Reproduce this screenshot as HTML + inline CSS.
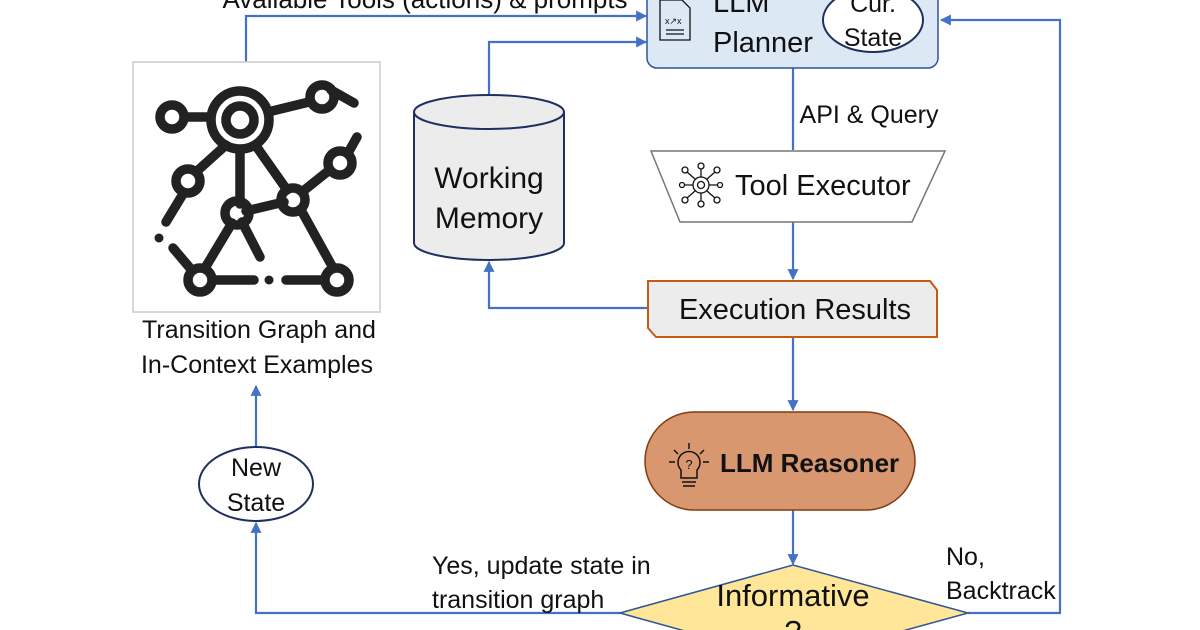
<!DOCTYPE html>
<html><head><meta charset="utf-8"><style>
html,body{margin:0;padding:0;background:#fff;}
svg{display:block;font-family:"Liberation Sans","DejaVu Sans",sans-serif;}
</style></head><body>
<svg width="1200" height="630" viewBox="0 0 1200 630" xmlns="http://www.w3.org/2000/svg">
<defs>
<marker id="a" viewBox="0 0 10 10" refX="9" refY="5" markerWidth="5" markerHeight="5" orient="auto"><path d="M0,0 L10,5 L0,10 z" fill="#4472c4"/></marker>
</defs>
<g fill="none" stroke="#4472c4" stroke-width="2.2">
<path d="M246,62 V16 H646" marker-end="url(#a)"/>
<path d="M489,95 V42 H646" marker-end="url(#a)"/>
<path d="M793,68 V150"/>
<path d="M793,222 V279" marker-end="url(#a)"/>
<path d="M648,308 H489 V262" marker-end="url(#a)"/>
<path d="M793,338 V410" marker-end="url(#a)"/>
<path d="M793,510 V564" marker-end="url(#a)"/>
<path d="M620,613 H256 V523" marker-end="url(#a)"/>
<path d="M256,446 V386" marker-end="url(#a)"/>
<path d="M968,613 H1060 V20 H941" marker-end="url(#a)"/>
</g>
<text x="425" y="8" font-size="26" text-anchor="middle" fill="#111">Available Tools (actions) &amp; prompts</text>
<!-- Planner -->
<rect x="647" y="-12" width="291" height="80" rx="10" fill="#dde8f5" stroke="#2f5597" stroke-width="1.5"/>
<g fill="none" stroke="#111" stroke-width="1.3">
<path d="M660,0 H682 L690,8 V40 H660 Z"/>
<path d="M666,30 H684 M666,34 H684"/>
</g>
<text x="665" y="24" font-size="9" fill="#111">x↗x</text>
<text x="713" y="12" font-size="29" fill="#111">LLM</text>
<text x="713" y="52" font-size="29" fill="#111">Planner</text>
<ellipse cx="873" cy="20" rx="50" ry="32" fill="#fff" stroke="#1f2f5f" stroke-width="2"/>
<text x="873" y="12" font-size="25" text-anchor="middle" fill="#111">Cur.</text>
<text x="873" y="46" font-size="25" text-anchor="middle" fill="#111">State</text>
<text x="869" y="123" font-size="25" text-anchor="middle" fill="#111">API &amp; Query</text>
<!-- Tool Executor -->
<path d="M651,151 H945 L912,222 H680 Z" fill="#fff" stroke="#777" stroke-width="1.5"/>
<g fill="none" stroke="#111" stroke-width="1.3">
<circle cx="701" cy="185" r="8"/><circle cx="701" cy="185" r="3.5"/>
<path d="M701,177 V169 M701,193 V201 M693,185 H685 M709,185 H717 M695,179 L687,172 M707,179 L715,172 M695,191 L687,198 M707,191 L715,198"/>
<circle cx="685" cy="170" r="3"/><circle cx="701" cy="166" r="3"/><circle cx="717" cy="170" r="3"/>
<circle cx="685" cy="200" r="3"/><circle cx="701" cy="204" r="3"/><circle cx="717" cy="200" r="3"/>
<circle cx="682" cy="185" r="2.5"/><circle cx="720" cy="185" r="2.5"/>
</g>
<text x="735" y="195" font-size="29" fill="#111">Tool Executor</text>
<!-- Working memory -->
<path d="M414,112 V243 A75,17 0 0 0 564,243 V112" fill="#ececec" stroke="#1f2f5f" stroke-width="2"/>
<ellipse cx="489" cy="112" rx="75" ry="17" fill="#ececec" stroke="#1f2f5f" stroke-width="2"/>
<text x="489" y="188" font-size="30" text-anchor="middle" fill="#111">Working</text>
<text x="489" y="228" font-size="30" text-anchor="middle" fill="#111">Memory</text>
<!-- Execution results -->
<path d="M648,281 H930 L937,290 V337 H656 L648,328 Z" fill="#ececec" stroke="#c55a11" stroke-width="2"/>
<text x="795" y="319" font-size="29" text-anchor="middle" fill="#111">Execution Results</text>
<!-- Reasoner -->
<rect x="645" y="412" width="270" height="98" rx="49" fill="#d9976f" stroke="#843c0c" stroke-width="1.5"/>
<g fill="none" stroke="#111" stroke-width="1.5">
<path d="M681,478 V470 A11,11 0 1 1 697,470 V478 Z"/>
<path d="M682,482 H696 M683,486 H695"/>
<path d="M689,443 V449 M674,450 L678,454 M704,450 L700,454 M669,462 H675 M703,462 H709"/>
</g>
<text x="689" y="469" font-size="13" text-anchor="middle" fill="#111">?</text>
<text x="720" y="472" font-size="26" font-weight="bold" fill="#111">LLM Reasoner</text>
<!-- Diamond -->
<path d="M620,613 L793,565 L968,613 L793,661 Z" fill="#ffe699" stroke="#2f5597" stroke-width="1.5"/>
<text x="793" y="606" font-size="31" text-anchor="middle" fill="#111">Informative</text>
<text x="793" y="642" font-size="31" text-anchor="middle" fill="#111">?</text>
<text x="432" y="574" font-size="25" fill="#111">Yes, update state in</text>
<text x="432" y="608" font-size="25" fill="#111">transition graph</text>
<text x="946" y="565" font-size="25" fill="#111">No,</text>
<text x="946" y="599" font-size="25" fill="#111">Backtrack</text>
<!-- New state -->
<ellipse cx="256" cy="484" rx="57" ry="37" fill="#fff" stroke="#1f2f5f" stroke-width="2"/>
<text x="256" y="476" font-size="25" text-anchor="middle" fill="#111">New</text>
<text x="256" y="511" font-size="25" text-anchor="middle" fill="#111">State</text>
<!-- Graph image -->
<rect x="133" y="62" width="247" height="250" fill="#fff" stroke="#ccc" stroke-width="1.5"/>
<g fill="none" stroke="#222" stroke-width="9.5" stroke-linecap="round">
<path d="M185,117 H210 M268,112 L309,102 M226,145 L196,172 M240,150 V204 M256,146 L287,190 M183,194 L166,222 M246,211 L284,202 M302,192 L327,172 M348,153 L357,137 M331,90 L354,103 M232,223 L205,268 M242,222 L260,257 M301,210 L332,266 M214,280 H254 M286,280 H322 M173,248 L190,268"/>
<circle cx="240" cy="120" r="29"/><circle cx="240" cy="120" r="14"/>
<circle cx="172" cy="117" r="12"/><circle cx="322" cy="97" r="12"/>
<circle cx="188" cy="181" r="12"/><circle cx="340" cy="163" r="12"/>
<circle cx="237" cy="213" r="12"/><circle cx="293" cy="200" r="12"/>
<circle cx="200" cy="280" r="12"/><circle cx="337" cy="280" r="12"/>
</g>
<circle cx="159" cy="238" r="4.5" fill="#222"/><circle cx="269" cy="280" r="4.5" fill="#222"/>
<text x="259" y="338" font-size="25" text-anchor="middle" fill="#111">Transition Graph and</text>
<text x="257" y="373" font-size="25" text-anchor="middle" fill="#111">In-Context Examples</text>
</svg>
</body></html>
